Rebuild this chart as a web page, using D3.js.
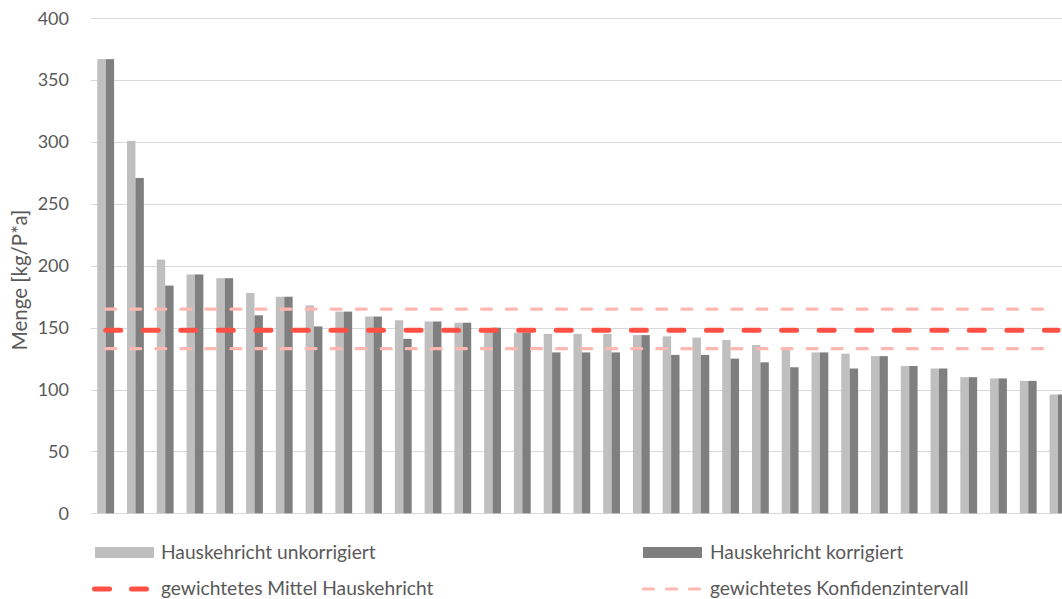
<!DOCTYPE html>
<html>
<head>
<meta charset="utf-8">
<script src="https://cdn.jsdelivr.net/npm/d3@7"></script>
<style>
  html, body { margin: 0; padding: 0; background: #ffffff; overflow: hidden; }
  svg { display: block; font-family: Lato, "Open Sans", sans-serif; }
</style>
</head>
<body>
<svg id="chart" width="1062" height="599"></svg>
<script>
// ---- data ----
const categories = ["1","2","3","4","5","6","7","8","9","10","11","12","13","14","15","16","17",
                    "18","19","20","21","22","23","24","25","26","27","28","29","30","31","32","33"];
const unkorrigiert = [367, 301, 205, 193, 190, 178, 175, 168, 163, 159, 156, 155, 154, 149, 146, 145, 145,
                      145, 144, 143, 142, 140, 136, 132, 130, 129, 127, 119, 117, 110, 109, 107, 96];
const korrigiert   = [367, 271, 184, 193, 190, 160, 175, 151, 163, 159, 141, 155, 154, 150, 146, 130, 130,
                      130, 144, 128, 128, 125, 122, 118, 130, 117, 127, 119, 117, 110, 109, 107, 96];
const mittel = 148;
const konfOben = 165;
const konfUnten = 133;
const yTicks = [0, 50, 100, 150, 200, 250, 300, 350, 400];
const seriesNames = ["Hauskehricht unkorrigiert", "Hauskehricht korrigiert"];
const lineNames = ["gewichtetes Mittel Hauskehricht", "gewichtetes Konfidenzintervall"];
const yTitle = "Menge [kg/P*a]";

(function () {
// ---- styles ----
const cLight = "#bfbfbf", cDark = "#7f7f7f", cMean = "#ff5046", cCI = "#ffb7b1";
const cText = "#595959", cGrid = "#d9d9d9";

const svg = d3.select("#chart");
const pLeft = 90.8, pRight = 90.8 + 33 * 29.76, pTop = 18.3, pBottom = 513.3;

const x = d3.scaleBand().domain(categories).range([pLeft, pRight])
  .paddingInner(0.435).paddingOuter(0.2175);
const xs = d3.scaleBand().domain([0, 1]).range([0, x.bandwidth()]);
const y = d3.scaleLinear().domain([0, 400]).range([pBottom, pTop]);

// gridlines
svg.append("g").selectAll("line").data(yTicks).join("line")
  .attr("x1", pLeft).attr("x2", 1062)
  .attr("y1", d => Math.round(y(d)) + 0.5).attr("y2", d => Math.round(y(d)) + 0.5)
  .attr("stroke", cGrid).attr("stroke-width", 1);

// y tick labels
svg.append("g").selectAll("text").data(yTicks).join("text")
  .attr("x", 69).attr("y", d => y(d)).attr("dy", "0.35em")
  .attr("text-anchor", "end").attr("fill", cText).attr("font-size", 18)
  .text(d => d);

// y title
svg.append("text")
  .attr("transform", `translate(27,280) rotate(-90)`)
  .attr("text-anchor", "middle").attr("fill", cText).attr("font-size", 20.5)
  .text(yTitle);

// bars
const bars = svg.append("g");
bars.selectAll("rect.u").data(categories).join("rect").attr("class", "u")
  .attr("x", (d) => x(d) + xs(0)).attr("width", xs.bandwidth())
  .attr("y", (d, i) => y(unkorrigiert[i])).attr("height", (d, i) => y(0) - y(unkorrigiert[i]))
  .attr("fill", cLight);
bars.selectAll("rect.k").data(categories).join("rect").attr("class", "k")
  .attr("x", (d) => x(d) + xs(1)).attr("width", xs.bandwidth())
  .attr("y", (d, i) => y(korrigiert[i])).attr("height", (d, i) => y(0) - y(korrigiert[i]))
  .attr("fill", cDark);

// lines
const x0 = x(categories[0]) + x.bandwidth() / 2;
const x1 = x(categories[categories.length - 1]) + x.bandwidth() / 2;
const lineGen = d3.line().x(d => d[0]).y(d => y(d[1]));
[konfOben, konfUnten].forEach(v => {
  svg.append("path").attr("d", lineGen([[x0, v], [x1 - 8, v]]))
    .attr("stroke", cCI).attr("stroke-width", 3.2).attr("fill", "none")
    .attr("stroke-dasharray", "10 15.05").attr("stroke-linecap", "round");
});
svg.append("path").attr("d", lineGen([[x0, mittel], [x1, mittel]]))
  .attr("stroke", cMean).attr("stroke-width", 5).attr("fill", "none")
  .attr("stroke-dasharray", "15 22.55").attr("stroke-linecap", "round");

// legend
const lg = svg.append("g").attr("fill", cText).attr("font-size", 19.2);
lg.append("rect").attr("x", 95).attr("y", 547).attr("width", 59).attr("height", 11).attr("fill", cLight);
lg.append("text").attr("x", 161).attr("y", 552).attr("dy", "0.35em").text(seriesNames[0]);
lg.append("rect").attr("x", 643).attr("y", 547).attr("width", 59).attr("height", 11).attr("fill", cDark);
lg.append("text").attr("x", 710).attr("y", 552).attr("dy", "0.35em").text(seriesNames[1]);
lg.append("line").attr("x1", 94.5).attr("x2", 147).attr("y1", 589).attr("y2", 589)
  .attr("stroke", cMean).attr("stroke-width", 5).attr("stroke-dasharray", "15 22")
  .attr("stroke-linecap", "round");
lg.append("text").attr("x", 161).attr("y", 588).attr("dy", "0.35em").text(lineNames[0]);
lg.append("line").attr("x1", 643.5).attr("x2", 702).attr("y1", 589).attr("y2", 589)
  .attr("stroke", cCI).attr("stroke-width", 3.2).attr("stroke-dasharray", "10 13")
  .attr("stroke-linecap", "round");
lg.append("text").attr("x", 710).attr("y", 588).attr("dy", "0.35em").text(lineNames[1]);
})();
</script>
</body>
</html>
